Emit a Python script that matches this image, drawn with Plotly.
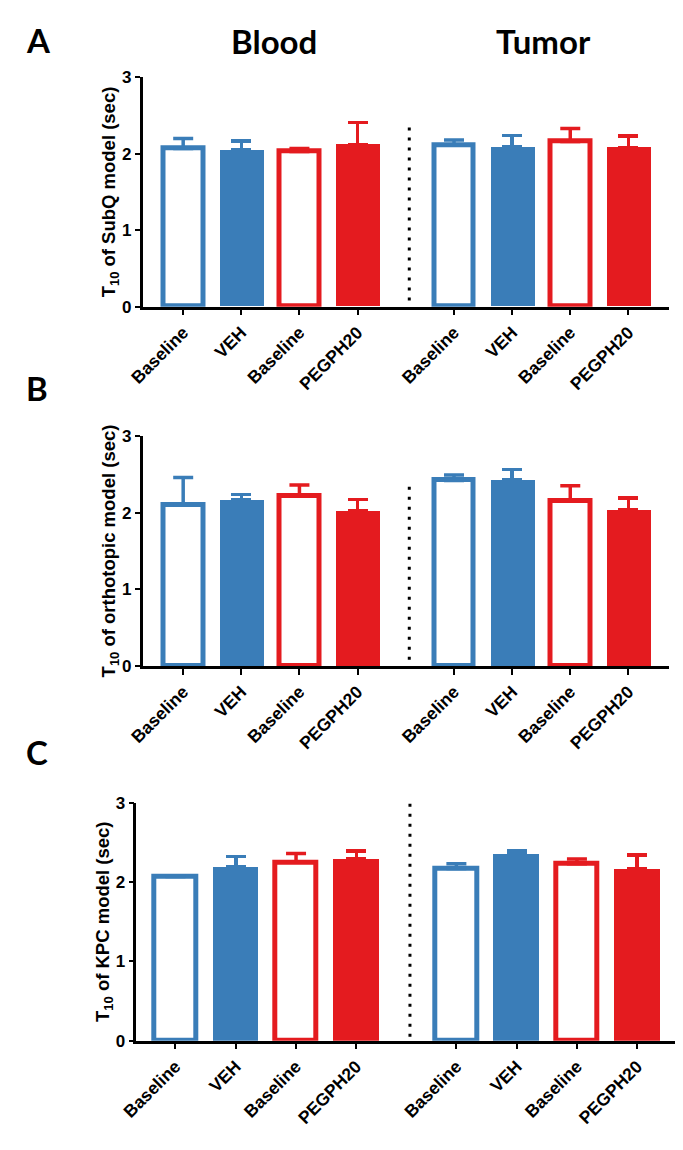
import plotly.graph_objects as go

# ---------------- data ----------------
categories = ["Baseline", "VEH", "Baseline", "PEGPH20"]
groups = ["Blood", "Tumor"]
panel_letters = ["A", "B", "C"]
y_titles = [
    "T<sub>10</sub> of SubQ model (sec)",
    "T<sub>10</sub> of orthotopic model (sec)",
    "T<sub>10</sub> of KPC model (sec)",
]
# order: Blood (Baseline, VEH, Baseline, PEGPH20), Tumor (Baseline, VEH, Baseline, PEGPH20)
A_mean = [2.07, 2.05, 2.03, 2.12, 2.11, 2.09, 2.16, 2.08]
A_sem = [0.13, 0.12, 0.04, 0.29, 0.07, 0.15, 0.17, 0.15]
B_mean = [2.10, 2.17, 2.22, 2.02, 2.42, 2.43, 2.15, 2.04]
B_sem = [0.36, 0.07, 0.14, 0.15, 0.07, 0.13, 0.20, 0.15]
C_mean = [2.07, 2.19, 2.25, 2.29, 2.17, 2.36, 2.23, 2.17]
C_sem = [0.01, 0.13, 0.11, 0.10, 0.06, 0.03, 0.06, 0.17]
y_ticks = [0, 1, 2, 3]

means = [A_mean, B_mean, C_mean]
sems = [A_sem, B_sem, C_sem]

# ---------------- styling / layout ----------------
OFF = 8                      # default page (body) margin of the HTML page
W, H = 683 - OFF, 1150 - 2 * OFF
BLUE = "#3A7DB8"
RED = "#E41B1F"
GAP = 4.66          # offset of second group
DIV_X = 3.89        # divider position
divider_top = [2.39, 2.40, 3.0]
divider_bot = [0.08, 0.08, 0.05]

# page-pixel geometry (x_left, x_right, y_zero, y_three)
geom = [
    (142.5, 668.5, 306.7, 77.3),
    (142.5, 668.5, 666.0, 436.0),
    (136.3, 677.6, 1040.7, 802.7),
]
x_ranges = [(-0.70, 8.35), (-0.70, 8.35), (-0.65, 8.33)]


def px_x(v):
    return (v - OFF) / W


def px_y(v):
    return 1 - (v - OFF) / H


positions = [i for i in range(4)] + [GAP + i for i in range(4)]
colors = [BLUE, BLUE, RED, RED] * 2
is_open = [True, False, True, False] * 2

TICKFONT = dict(family="Liberation Sans, Arial, sans-serif", size=17, color="black", weight="bold")
XTICKFONT = dict(family="Liberation Sans, Arial, sans-serif", size=17.5, color="black", weight="bold")
TITLEFONT = dict(family="Liberation Sans, Arial, sans-serif", size=18.5, color="black", weight="bold")
LETTERFONT = dict(family="Lato, sans-serif", size=33, color="black", weight="bold")

fig = go.Figure()

for p in range(3):
    xl, xr, y0, y3 = geom[p]
    xa = "x" if p == 0 else f"x{p+1}"
    ya = "y" if p == 0 else f"y{p+1}"
    px_per_unit = (xr - xl) / (x_ranges[p][1] - x_ranges[p][0])
    outer_w = 0.77
    line_w = 5
    for color in (BLUE, RED):
        for op in (True, False):
            idx = [i for i in range(8) if colors[i] == color and is_open[i] == op]
            fig.add_trace(go.Bar(
                x=[positions[i] for i in idx],
                y=[means[p][i] for i in idx],
                width=(outer_w - line_w / px_per_unit) if op else 0.76,
                marker=dict(
                    color="white" if op else color,
                    line=dict(color=color, width=line_w if op else 0),
                ),
                error_y=dict(
                    type="data", symmetric=False,
                    array=[sems[p][i] for i in idx],
                    arrayminus=[0] * len(idx),
                    color=color, thickness=3.5, width=10,
                ),
                xaxis=xa, yaxis=ya, showlegend=False, hoverinfo="skip",
            ))
    # dotted divider
    fig.add_trace(go.Scatter(
        x=[DIV_X, DIV_X], y=[divider_bot[p], divider_top[p]],
        mode="lines", line=dict(color="black", width=3, dash="3px,7px"),
        xaxis=xa, yaxis=ya, showlegend=False, hoverinfo="skip",
    ))

    xdom = [px_x(xl), min(1.0, px_x(xr))]
    ydom = [px_y(y0), px_y(y3)]
    xkey = "xaxis" if p == 0 else f"xaxis{p+1}"
    ykey = "yaxis" if p == 0 else f"yaxis{p+1}"
    fig.update_layout(**{
        xkey: dict(
            domain=xdom, range=list(x_ranges[p]), anchor=ya, automargin=False,
            tickmode="array", tickvals=positions, ticktext=categories * 2,
            tickangle=-45, tickfont=XTICKFONT,
            showline=True, linecolor="black", linewidth=2.5,
            ticks="outside", ticklen=6, tickwidth=2, tickcolor="black",
            showgrid=False, zeroline=False, fixedrange=True,
        ),
        ykey: dict(
            domain=ydom, range=[0, 3], anchor=xa, automargin=False,
            tickmode="array", tickvals=y_ticks, ticktext=[str(t) for t in y_ticks],
            tickfont=TICKFONT,
            showline=True, linecolor="black", linewidth=2.5,
            ticks="outside", ticklen=5, tickwidth=2, tickcolor="black",
            showgrid=False, zeroline=False, fixedrange=True,
            title=dict(text=y_titles[p], font=TITLEFONT, standoff=2),
        ),
    })

annotations = []
letter_pos = [(38, 40), (37, 388), (37, 752)]
for p, (lx, ly) in enumerate(letter_pos):
    annotations.append(dict(text=panel_letters[p], x=px_x(lx), y=px_y(ly), xref="paper", yref="paper",
                            xanchor="center", yanchor="middle", showarrow=False, font=LETTERFONT))
for g, gx in zip(groups, [274, 543]):
    annotations.append(dict(text=g, x=px_x(gx), y=px_y(41), xref="paper", yref="paper",
                            xanchor="center", yanchor="middle", showarrow=False, font=LETTERFONT))

fig.update_layout(
    width=W, height=H,
    margin=dict(l=0, r=0, t=0, b=0, pad=0, autoexpand=False),
    paper_bgcolor="white", plot_bgcolor="white",
    barmode="overlay", bargap=0,
    annotations=annotations,
    showlegend=False,
)

fig.write_html("out.html", config={"displayModeBar": False})
